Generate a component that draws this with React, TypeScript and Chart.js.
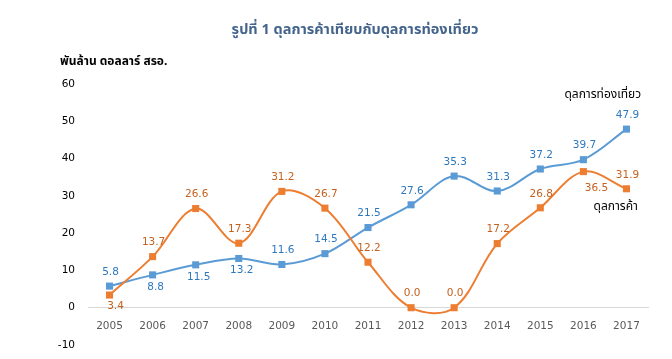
import React, { useEffect, useRef } from 'react';
import { Chart, registerables } from 'chart.js';

Chart.register(...registerables);

const years = ['2005', '2006', '2007', '2008', '2009', '2010', '2011', '2012', '2013', '2014', '2015', '2016', '2017'];
const tourismBalance = [5.8, 8.8, 11.5, 13.2, 11.6, 14.5, 21.5, 27.6, 35.3, 31.3, 37.2, 39.7, 47.9];
const tradeBalance = [3.4, 13.7, 26.6, 17.3, 31.2, 26.7, 12.2, 0.0, 0.0, 17.2, 26.8, 36.5, 31.9];
const yMin = -10;
const yMax = 60;
const yStep = 10;

const titleText = 'รูปที่ 1 ดุลการค้าเทียบกับดุลการท่องเที่ยว';
const unitText = 'พันล้าน ดอลลาร์ สรอ.';
const tourismName = 'ดุลการท่องเที่ยว';
const tradeName = 'ดุลการค้า';

// label placement relative to each point
const tourismPlacement = ['above', 'below', 'below', 'below', 'above', 'above', 'above', 'above', 'above', 'above', 'above', 'above', 'above'];
const tradePlacement = ['belowSmall', 'above', 'above', 'above', 'above', 'above', 'above', 'above', 'above', 'above', 'above', 'belowRight', 'above'];

const BLUE = '#5B9BD5';
const BLUE_TEXT = '#2E78BE';
const ORANGE = '#ED7D31';
const ORANGE_TEXT = '#C4611F';
const NUM_FONT = "'DejaVu Sans', Tahoma, sans-serif";
const THAI_FONT = "'Noto Sans Thai', 'Noto Sans', Tahoma, 'DejaVu Sans', sans-serif";

const offsets: Record<string, [number, number]> = {
  above: [1, -14],
  below: [3, 12],
  belowSmall: [6, 11],
  belowRight: [13, 17],
};

const textPlugin = {
  id: 'customText',
  afterDatasetsDraw(chart: any) {
    const ctx = chart.ctx;
    ctx.save();
    ctx.font = `10.5px ${NUM_FONT}`;
    ctx.textAlign = 'center';
    ctx.textBaseline = 'middle';
    chart.data.datasets.forEach((ds: any, di: number) => {
      const meta = chart.getDatasetMeta(di);
      const placement = ds.label === tradeName ? tradePlacement : tourismPlacement;
      ctx.fillStyle = ds.label === tradeName ? ORANGE_TEXT : BLUE_TEXT;
      meta.data.forEach((pt: any, i: number) => {
        const v = ds.data[i] as number;
        const [dx, dy] = offsets[placement[i]];
        ctx.fillText(v.toFixed(1), pt.x + dx, pt.y + dy);
      });
    });
    // title
    ctx.fillStyle = '#44648C';
    ctx.font = `bold 14.5px ${THAI_FONT}`;
    ctx.fillText(titleText, 355, 31);
    // unit label
    ctx.fillStyle = '#000000';
    ctx.textAlign = 'left';
    ctx.font = `bold 12px ${THAI_FONT}`;
    ctx.fillText(unitText, 60, 63);
    // series names
    ctx.font = `12px ${THAI_FONT}`;
    ctx.textAlign = 'center';
    const yScale = chart.scales.y;
    const xScale = chart.scales.x;
    ctx.fillText(tourismName, xScale.getPixelForValue(11.45), yScale.getPixelForValue(57.0));
    ctx.fillText(tradeName, xScale.getPixelForValue(11.75), yScale.getPixelForValue(26.8));
    ctx.restore();
  },
};

export default function App() {
  const canvasRef = useRef<HTMLCanvasElement | null>(null);

  useEffect(() => {
    if (!canvasRef.current) return;
    const chart = new Chart(canvasRef.current, {
      type: 'line',
      data: {
        labels: years,
        datasets: [
          {
            label: tradeName,
            data: tradeBalance,
            borderColor: ORANGE,
            backgroundColor: ORANGE,
            borderWidth: 2,
            pointStyle: 'rect',
            pointRadius: 5,
            pointBorderWidth: 0,
            tension: 0.35,
          },
          {
            label: tourismName,
            data: tourismBalance,
            borderColor: BLUE,
            backgroundColor: BLUE,
            borderWidth: 2,
            pointStyle: 'rect',
            pointRadius: 5,
            pointBorderWidth: 0,
            tension: 0.35,
          },
        ],
      },
      options: {
        responsive: false,
        animation: false,
        layout: { padding: { top: 84, right: 24, bottom: 14, left: 0 } },
        plugins: {
          legend: { display: false },
          title: { display: false },
          tooltip: { enabled: false },
        },
        scales: {
          x: {
            type: 'category',
            offset: true,
            position: { y: 0 } as any,
            grid: { display: false, drawTicks: false },
            border: { display: true, color: '#D9D9D9', width: 1 },
            afterFit: (s: any) => {
              s.height = 0;
              s.paddingTop = 0;
              s.paddingBottom = 0;
            },
            ticks: {
              color: '#595959',
              font: { family: NUM_FONT, size: 10.5 },
              padding: 12,
              maxRotation: 0,
              autoSkip: false,
            },
          },
          y: {
            min: yMin,
            max: yMax,
            grid: { display: false, drawTicks: false },
            border: { display: false },
            afterFit: (s: any) => {
              s.width = 88;
              s.paddingTop = 0;
              s.paddingBottom = 0;
            },
            ticks: {
              stepSize: yStep,
              color: '#000000',
              font: { family: NUM_FONT, size: 10.5 },
              padding: 13,
            },
          },
        },
      },
      plugins: [textPlugin],
    });
    return () => chart.destroy();
  }, []);

  return (
    <div style={{ position: 'fixed', left: 0, top: 0, width: 672, height: 359, background: '#fff' }}>
      <canvas ref={canvasRef} width={672} height={359} style={{ display: 'block' }} />
    </div>
  );
}
